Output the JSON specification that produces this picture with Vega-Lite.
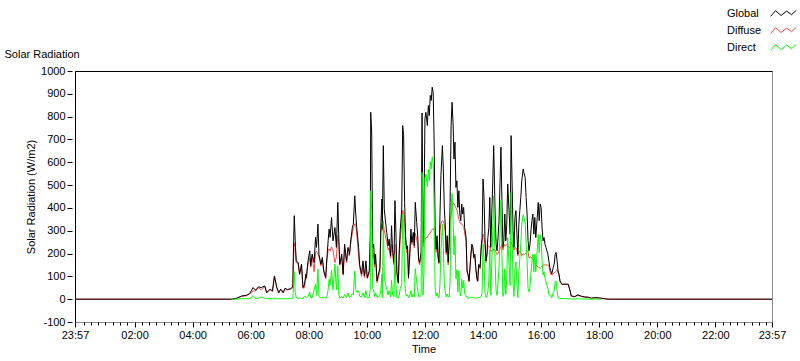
{
"$schema": "https://vega.github.io/schema/vega-lite/v6.json",
"width": 697, "height": 251,
"autosize": "none",
"padding": {"left": 75, "top": 71, "right": 28, "bottom": 39},
"background": "white",
"config": {
  "font": "Liberation Sans",
  "view": {"stroke": "#8c8c8c", "strokeWidth": 1},
  "axis": {"labelFont": "Liberation Sans", "labelFontSize": 11, "labelColor": "black", "titleFont": "Liberation Sans", "titleFontSize": 11, "titleFontWeight": "normal", "titleColor": "black", "grid": false, "tickColor": "black", "domainColor": "black"}
},
"data": {"values": [
{"m":-3,"g":0,"d":0},{"m":320,"g":0,"d":0,"b":0},{"m":331,"g":4,"d":4,"b":0},{"m":341,"g":14,"d":12,"b":2},{"m":351,"g":17,"d":15,"b":2},{"m":358,"g":25,"d":23,"b":2},{"m":365,"g":51,"d":36,"b":15},{"m":370,"g":39,"d":36,"b":3},{"m":376,"g":54,"d":50,"b":4},{"m":382,"g":51,"d":41,"b":10},{"m":389,"g":58,"d":55,"b":3},{"m":393,"g":29,"d":27,"b":2},{"m":400,"g":44,"d":42,"b":2},{"m":405,"g":36,"d":34,"b":2},{"m":409,"g":102,"d":97,"b":5},{"m":414,"g":51,"d":49,"b":2},{"m":418,"g":29,"d":27,"b":2},{"m":422,"g":44,"d":42,"b":2},{"m":427,"g":29,"d":27,"b":2},{"m":431,"g":48,"d":46,"b":2},{"m":436,"g":42,"d":40,"b":2},{"m":442,"g":46,"d":44,"b":2},{"m":447,"g":54,"d":50,"b":4},{"m":448,"g":183,"d":150,"b":33},{"m":450,"g":366,"d":245,"b":121},{"m":452,"g":256,"d":225,"b":31},{"m":454,"g":168,"d":160,"b":8},{"m":458,"g":161,"d":158,"b":3},{"m":461,"g":110,"d":106,"b":4},{"m":465,"g":154,"d":150,"b":4},{"m":468,"g":51,"d":48,"b":3},{"m":471,"g":63,"d":50,"b":13},{"m":474,"g":110,"d":100,"b":10},{"m":475,"g":95,"d":88,"b":7},{"m":478,"g":161,"d":150,"b":11},{"m":482,"g":212,"d":180,"b":32},{"m":484,"g":146,"d":140,"b":6},{"m":487,"g":197,"d":190,"b":7},{"m":491,"g":161,"d":120,"b":41},{"m":494,"g":271,"d":205,"b":66},{"m":496,"g":227,"d":210,"b":17},{"m":499,"g":329,"d":197,"b":132},{"m":501,"g":197,"d":185,"b":12},{"m":505,"g":153,"d":146,"b":7},{"m":508,"g":183,"d":175,"b":8},{"m":511,"g":124,"d":118,"b":6},{"m":515,"g":95,"d":90,"b":5},{"m":517,"g":168,"d":160,"b":8},{"m":520,"g":256,"d":215,"b":41},{"m":522,"g":307,"d":220,"b":87},{"m":524,"g":271,"d":210,"b":61},{"m":527,"g":358,"d":230,"b":128},{"m":530,"g":256,"d":215,"b":41},{"m":534,"g":314,"d":160,"b":154},{"m":537,"g":227,"d":185,"b":42},{"m":540,"g":424,"d":280,"b":144},{"m":542,"g":271,"d":250,"b":21},{"m":544,"g":153,"d":148,"b":5},{"m":548,"g":197,"d":185,"b":12},{"m":551,"g":110,"d":105,"b":5},{"m":554,"g":241,"d":220,"b":21},{"m":558,"g":168,"d":160,"b":8},{"m":561,"g":227,"d":200,"b":27},{"m":564,"g":197,"d":190,"b":7},{"m":567,"g":263,"d":250,"b":13},{"m":570,"g":314,"d":290,"b":24},{"m":572,"g":329,"d":310,"b":19},{"m":575,"g":453,"d":330,"b":123},{"m":577,"g":373,"d":330,"b":43},{"m":579,"g":314,"d":285,"b":29},{"m":583,"g":227,"d":190,"b":37},{"m":585,"g":153,"d":140,"b":13},{"m":589,"g":110,"d":100,"b":10},{"m":592,"g":168,"d":140,"b":28},{"m":595,"g":102,"d":95,"b":7},{"m":598,"g":168,"d":130,"b":38},{"m":601,"g":95,"d":90,"b":5},{"m":605,"g":124,"d":115,"b":9},{"m":607,"g":271,"d":230,"b":41},{"m":608,"g":819,"d":344,"b":475},{"m":610,"g":724,"d":340,"b":384},{"m":612,"g":227,"d":180,"b":47},{"m":614,"g":241,"d":200,"b":41},{"m":616,"g":153,"d":140,"b":13},{"m":618,"g":197,"d":170,"b":27},{"m":621,"g":80,"d":72,"b":8},{"m":624,"g":110,"d":100,"b":10},{"m":627,"g":139,"d":120,"b":19},{"m":629,"g":330,"d":290,"b":40},{"m":631,"g":439,"d":330,"b":109},{"m":632,"g":307,"d":300,"b":7},{"m":634,"g":673,"d":330,"b":343},{"m":636,"g":395,"d":300,"b":95},{"m":638,"g":351,"d":280,"b":71},{"m":641,"g":293,"d":250,"b":43},{"m":644,"g":234,"d":215,"b":19},{"m":646,"g":263,"d":225,"b":38},{"m":649,"g":190,"d":180,"b":10},{"m":651,"g":322,"d":240,"b":82},{"m":653,"g":219,"d":200,"b":19},{"m":656,"g":161,"d":150,"b":11},{"m":658,"g":432,"d":240,"b":192},{"m":660,"g":293,"d":230,"b":63},{"m":662,"g":117,"d":110,"b":7},{"m":665,"g":73,"d":68,"b":5},{"m":667,"g":219,"d":200,"b":19},{"m":669,"g":307,"d":260,"b":47},{"m":672,"g":395,"d":330,"b":65},{"m":674,"g":761,"d":390,"b":371},{"m":676,"g":717,"d":380,"b":337},{"m":678,"g":424,"d":340,"b":84},{"m":680,"g":278,"d":250,"b":28},{"m":682,"g":219,"d":205,"b":14},{"m":684,"g":234,"d":215,"b":19},{"m":686,"g":95,"d":90,"b":5},{"m":689,"g":219,"d":200,"b":19},{"m":691,"g":307,"d":270,"b":37},{"m":693,"g":249,"d":240,"b":9},{"m":696,"g":293,"d":270,"b":23},{"m":698,"g":234,"d":225,"b":9},{"m":700,"g":424,"d":290,"b":134},{"m":703,"g":336,"d":260,"b":76},{"m":705,"g":278,"d":240,"b":38},{"m":707,"g":176,"d":165,"b":11},{"m":709,"g":161,"d":150,"b":11},{"m":712,"g":205,"d":190,"b":15},{"m":714,"g":816,"d":260,"b":556},{"m":716,"g":249,"d":230,"b":19},{"m":718,"g":366,"d":250,"b":116},{"m":720,"g":790,"d":260,"b":530},{"m":722,"g":819,"d":270,"b":549},{"m":725,"g":761,"d":270,"b":491},{"m":727,"g":849,"d":280,"b":569},{"m":729,"g":805,"d":285,"b":520},{"m":731,"g":893,"d":290,"b":603},{"m":733,"g":871,"d":300,"b":571},{"m":735,"g":929,"d":305,"b":624},{"m":737,"g":907,"d":310,"b":597},{"m":739,"g":688,"d":300,"b":388},{"m":741,"g":322,"d":270,"b":52},{"m":743,"g":219,"d":205,"b":14},{"m":745,"g":278,"d":250,"b":28},{"m":747,"g":190,"d":180,"b":10},{"m":749,"g":161,"d":155,"b":6},{"m":751,"g":366,"d":300,"b":66},{"m":753,"g":541,"d":330,"b":211},{"m":756,"g":673,"d":345,"b":328},{"m":758,"g":571,"d":340,"b":231},{"m":760,"g":395,"d":330,"b":65},{"m":762,"g":322,"d":290,"b":32},{"m":764,"g":205,"d":195,"b":10},{"m":766,"g":278,"d":255,"b":23},{"m":768,"g":161,"d":150,"b":11},{"m":770,"g":249,"d":240,"b":9},{"m":772,"g":424,"d":340,"b":84},{"m":774,"g":761,"d":370,"b":391},{"m":776,"g":863,"d":400,"b":463},{"m":778,"g":775,"d":420,"b":355},{"m":780,"g":614,"d":420,"b":194},{"m":782,"g":688,"d":410,"b":278},{"m":784,"g":490,"d":400,"b":90},{"m":786,"g":519,"d":390,"b":129},{"m":788,"g":402,"d":370,"b":32},{"m":790,"g":475,"d":350,"b":125},{"m":792,"g":373,"d":340,"b":33},{"m":794,"g":344,"d":330,"b":14},{"m":796,"g":417,"d":330,"b":87},{"m":798,"g":373,"d":325,"b":48},{"m":800,"g":402,"d":320,"b":82},{"m":802,"g":314,"d":290,"b":24},{"m":805,"g":270,"d":255,"b":15},{"m":807,"g":124,"d":118,"b":6},{"m":809,"g":110,"d":105,"b":5},{"m":811,"g":80,"d":76,"b":4},{"m":813,"g":139,"d":132,"b":7},{"m":815,"g":197,"d":190,"b":7},{"m":817,"g":241,"d":232,"b":9},{"m":819,"g":227,"d":220,"b":7},{"m":821,"g":183,"d":178,"b":5},{"m":823,"g":197,"d":190,"b":7},{"m":825,"g":139,"d":134,"b":5},{"m":827,"g":95,"d":90,"b":5},{"m":829,"g":80,"d":76,"b":4},{"m":831,"g":153,"d":145,"b":8},{"m":834,"g":139,"d":133,"b":6},{"m":836,"g":227,"d":215,"b":12},{"m":838,"g":270,"d":245,"b":25},{"m":840,"g":527,"d":285,"b":242},{"m":842,"g":446,"d":270,"b":176},{"m":844,"g":270,"d":240,"b":30},{"m":846,"g":168,"d":160,"b":8},{"m":848,"g":197,"d":185,"b":12},{"m":850,"g":270,"d":235,"b":35},{"m":852,"g":314,"d":230,"b":84},{"m":854,"g":446,"d":230,"b":216},{"m":856,"g":227,"d":210,"b":17},{"m":858,"g":373,"d":215,"b":158},{"m":860,"g":505,"d":210,"b":295},{"m":862,"g":673,"d":220,"b":453},{"m":865,"g":373,"d":215,"b":158},{"m":867,"g":241,"d":205,"b":36},{"m":869,"g":212,"d":195,"b":17},{"m":871,"g":270,"d":200,"b":70},{"m":873,"g":344,"d":210,"b":134},{"m":875,"g":505,"d":220,"b":285},{"m":877,"g":666,"d":230,"b":436},{"m":879,"g":432,"d":240,"b":192},{"m":881,"g":227,"d":215,"b":12},{"m":883,"g":256,"d":230,"b":26},{"m":885,"g":373,"d":240,"b":133},{"m":887,"g":256,"d":235,"b":21},{"m":889,"g":329,"d":240,"b":89},{"m":891,"g":505,"d":235,"b":270},{"m":894,"g":373,"d":230,"b":143},{"m":896,"g":285,"d":225,"b":60},{"m":898,"g":717,"d":250,"b":467},{"m":900,"g":519,"d":240,"b":279},{"m":902,"g":300,"d":230,"b":70},{"m":904,"g":227,"d":215,"b":12},{"m":906,"g":358,"d":225,"b":133},{"m":908,"g":388,"d":225,"b":163},{"m":910,"g":285,"d":220,"b":65},{"m":912,"g":197,"d":190,"b":7},{"m":914,"g":329,"d":210,"b":119},{"m":916,"g":388,"d":210,"b":178},{"m":918,"g":446,"d":205,"b":241},{"m":920,"g":519,"d":190,"b":329},{"m":923,"g":571,"d":200,"b":371},{"m":925,"g":549,"d":195,"b":354},{"m":927,"g":534,"d":200,"b":334},{"m":929,"g":446,"d":200,"b":246},{"m":931,"g":373,"d":205,"b":168},{"m":933,"g":256,"d":210,"b":46},{"m":935,"g":212,"d":180,"b":32},{"m":937,"g":241,"d":185,"b":56},{"m":939,"g":300,"d":185,"b":115},{"m":941,"g":344,"d":180,"b":164},{"m":943,"g":373,"d":175,"b":198},{"m":945,"g":285,"d":165,"b":120},{"m":947,"g":358,"d":160,"b":198},{"m":949,"g":270,"d":150,"b":120},{"m":952,"g":358,"d":145,"b":213},{"m":954,"g":424,"d":140,"b":284},{"m":956,"g":344,"d":140,"b":204},{"m":958,"g":417,"d":135,"b":282},{"m":960,"g":402,"d":140,"b":262},{"m":962,"g":314,"d":145,"b":169},{"m":964,"g":256,"d":150,"b":106},{"m":966,"g":270,"d":150,"b":120},{"m":968,"g":241,"d":150,"b":91},{"m":970,"g":227,"d":150,"b":77},{"m":972,"g":212,"d":150,"b":62},{"m":974,"g":197,"d":150,"b":47},{"m":976,"g":168,"d":148,"b":20},{"m":978,"g":139,"d":120,"b":19},{"m":980,"g":124,"d":110,"b":14},{"m":982,"g":110,"d":105,"b":5},{"m":985,"g":139,"d":110,"b":29},{"m":987,"g":153,"d":115,"b":38},{"m":989,"g":197,"d":120,"b":77},{"m":991,"g":205,"d":125,"b":80},{"m":993,"g":168,"d":130,"b":38},{"m":995,"g":124,"d":118,"b":6},{"m":997,"g":110,"d":105,"b":5},{"m":999,"g":80,"d":76,"b":4},{"m":1001,"g":73,"d":70,"b":3},{"m":1003,"g":66,"d":63,"b":3},{"m":1009,"g":66,"d":64,"b":2},{"m":1016,"g":66,"d":64,"b":2},{"m":1020,"g":36,"d":35,"b":1},{"m":1022,"g":15,"d":14,"b":1},{"m":1029,"g":11,"d":10,"b":1},{"m":1036,"g":19,"d":17,"b":2},{"m":1043,"g":13,"d":12,"b":1},{"m":1050,"g":10,"d":9,"b":1},{"m":1057,"g":9,"d":8,"b":1},{"m":1064,"g":4,"d":4,"b":0},{"m":1071,"g":7,"d":6,"b":1},{"m":1078,"g":6,"d":5,"b":0},{"m":1085,"g":4,"d":4,"b":0},{"m":1095,"g":1,"d":1},{"m":1100,"g":0,"d":0},{"m":1437,"g":0,"d":0}
]},
"layer": [
  {"mark": {"type": "line", "strokeWidth": 1},
   "encoding": {
     "x": {"field": "m", "type": "quantitative", "scale": {"domain": [-3, 1437], "nice": false, "zero": false},
           "axis": {"orient": "top", "domain": true, "domainColor": "black", "ticks": false, "labels": false,
             "title": "Solar Radiation", "titleAnchor": "start", "titleAlign": "left", "titleBaseline": "alphabetic",
             "titleX": -71, "titleY": -14, "titleFontSize": 11, "titleFontWeight": "normal", "titleColor": "black"}},
     "y": {"field": "d", "type": "quantitative", "scale": {"domain": [-100, 1000], "nice": false, "zero": false},
           "axis": {"orient": "left", "domain": true, "domainColor": "black", "ticks": false, "labels": false, "title": null}},
     "color": {"datum": "Diffuse", "type": "nominal",
       "scale": {"domain": ["Global", "Diffuse", "Direct"], "range": ["#000000", "#ff4a4a", "#00ff00"]},
       "legend": {"orient": "none", "legendX": 700, "legendY": -66, "title": null, "padding": 0,
         "symbolType": "M-1.6,0.35L-1,-0.35L-0.3,0.25L0.4,-0.3L1,0.15L1.6,-0.4",
         "symbolSize": 256, "symbolStrokeWidth": 1, "symbolFillColor": "transparent",
         "labelFont": "Liberation Sans", "labelFontSize": 11, "labelColor": "black", "labelAlign": "left",
         "labelOffset": -65, "symbolOffset": 0, "rowPadding": 3}}
   }},
  {"mark": {"type": "line", "strokeWidth": 1},
   "encoding": {
     "x": {"field": "m", "type": "quantitative",
           "axis": {"orient": "bottom", "domain": false, "title": "Time", "titlePadding": 3, "labelPadding": 2, "labelOverlap": false, "labelFlush": false,
             "values": [-3,15,30,45,60,75,90,105,120,135,150,165,180,195,210,225,240,255,270,285,300,315,330,345,360,375,390,405,420,435,450,465,480,495,510,525,540,555,570,585,600,615,630,645,660,675,690,705,720,735,750,765,780,795,810,825,840,855,870,885,900,915,930,945,960,975,990,1005,1020,1035,1050,1065,1080,1095,1110,1125,1140,1155,1170,1185,1200,1215,1230,1245,1260,1275,1290,1305,1320,1335,1350,1365,1380,1395,1410,1425,1437],
             "labelExpr": "(datum.value == -3 || datum.value == 1437) ? '23:57' : (datum.value % 120 == 0 ? timeFormat(datetime(2000, 0, 1, 0, datum.value), '%H:%M') : '')",
             "tickSize": {"condition": {"test": "datum.value % 120 == 0 || datum.value == -3 || datum.value == 1437", "value": 5}, "value": 3}}},
     "y": {"field": "g", "type": "quantitative",
           "axis": {"orient": "left", "domain": false, "offset": 3, "tickSize": 5, "labelPadding": 2, "title": "Solar Radiation (W/m2)", "titlePadding": 4,
             "labelExpr": "'' + datum.value",
             "values": [-100, 0, 100, 200, 300, 400, 500, 600, 700, 800, 900, 1000]}},
     "color": {"datum": "Global", "type": "nominal"}
   }},
  {"mark": {"type": "line", "strokeWidth": 1},
   "encoding": {
     "x": {"field": "m", "type": "quantitative", "axis": null},
     "y": {"field": "b", "type": "quantitative", "axis": null},
     "color": {"datum": "Direct", "type": "nominal"}
   }}
],
"resolve": {"axis": {"x": "independent", "y": "independent"}}
}
